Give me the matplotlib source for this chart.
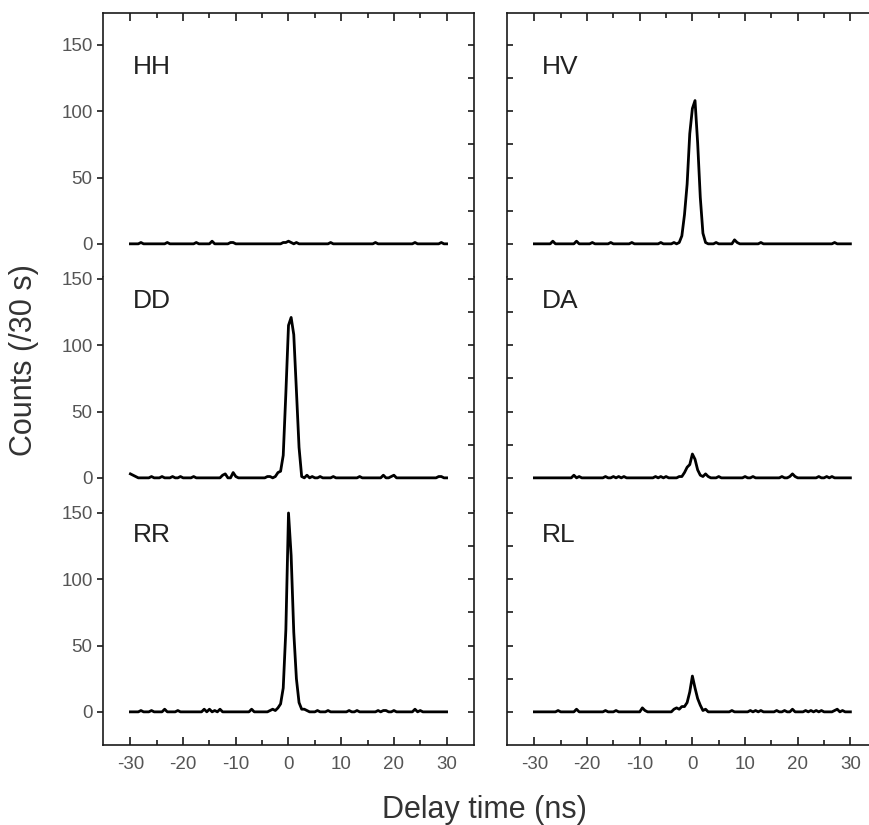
"""Two-photon coincidence counts for six polarisation bases."""
import matplotlib
matplotlib.use("Agg")
import matplotlib.pyplot as plt
from matplotlib.ticker import FixedLocator
import numpy as np

plt.rcParams["font.family"] = ["Liberation Sans", "DejaVu Sans"]
plt.rcParams["axes.unicode_minus"] = False

# delay time axis, 0.5 ns bins from -30 to 30 ns
delay = np.arange(-60, 61) * 0.5

counts_hh = [0, 0, 0, 0, 1, 0, 0, 0, 0, 0,
             0, 0, 0, 0, 1, 0, 0, 0, 0, 0,
             0, 0, 0, 0, 0, 1, 0, 0, 0, 0,
             0, 2, 0, 0, 0, 0, 0, 0, 1, 1,
             0, 0, 0, 0, 0, 0, 0, 0, 0, 0,
             0, 0, 0, 0, 0, 0, 0, 0, 1, 1,
             2, 1, 0, 1, 0, 0, 0, 0, 0, 0,
             0, 0, 0, 0, 0, 0, 1, 0, 0, 0,
             0, 0, 0, 0, 0, 0, 0, 0, 0, 0,
             0, 0, 0, 1, 0, 0, 0, 0, 0, 0,
             0, 0, 0, 0, 0, 0, 0, 0, 1, 0,
             0, 0, 0, 0, 0, 0, 0, 0, 1, 0,
             0]
counts_hv = [0, 0, 0, 0, 0, 0, 0, 2, 0, 0,
             0, 0, 0, 0, 0, 0, 2, 0, 0, 0,
             0, 0, 1, 0, 0, 0, 0, 0, 0, 1,
             0, 0, 0, 0, 0, 0, 0, 1, 0, 0,
             0, 0, 0, 0, 0, 0, 0, 0, 1, 0,
             0, 0, 0, 1, 0, 1, 6, 22, 45, 83,
             102, 108, 76, 35, 8, 1, 0, 0, 0, 1,
             0, 0, 0, 0, 0, 0, 3, 1, 0, 0,
             0, 0, 0, 0, 0, 0, 1, 0, 0, 0,
             0, 0, 0, 0, 0, 0, 0, 0, 0, 0,
             0, 0, 0, 0, 0, 0, 0, 0, 0, 0,
             0, 0, 0, 0, 1, 0, 0, 0, 0, 0,
             0]
counts_dd = [3, 2, 1, 0, 0, 0, 0, 0, 1, 0,
             0, 0, 1, 0, 0, 0, 1, 0, 0, 1,
             0, 0, 0, 0, 1, 0, 0, 0, 0, 0,
             0, 0, 0, 0, 0, 2, 3, 0, 0, 4,
             1, 0, 0, 0, 0, 0, 0, 0, 0, 0,
             0, 0, 1, 1, 0, 1, 4, 5, 17, 64,
             115, 121, 108, 66, 23, 1, 0, 2, 0, 1,
             0, 0, 1, 0, 0, 0, 0, 1, 0, 0,
             0, 0, 0, 0, 0, 0, 0, 1, 0, 0,
             0, 0, 0, 0, 0, 0, 2, 0, 0, 1,
             2, 0, 0, 0, 0, 0, 0, 0, 0, 0,
             0, 0, 0, 0, 0, 0, 0, 1, 1, 0,
             0]
counts_da = [0, 0, 0, 0, 0, 0, 0, 0, 0, 0,
             0, 0, 0, 0, 0, 2, 0, 1, 0, 0,
             0, 0, 0, 0, 0, 0, 0, 1, 0, 0,
             1, 0, 1, 0, 1, 0, 0, 0, 0, 0,
             0, 0, 0, 0, 0, 0, 1, 0, 1, 0,
             1, 0, 0, 0, 0, 1, 1, 4, 8, 10,
             18, 14, 6, 2, 1, 3, 1, 0, 0, 0,
             1, 0, 0, 0, 0, 0, 0, 0, 0, 0,
             1, 0, 0, 1, 0, 0, 0, 0, 0, 0,
             0, 0, 0, 0, 1, 0, 0, 1, 3, 1,
             0, 0, 0, 0, 0, 0, 0, 0, 1, 0,
             0, 1, 0, 1, 0, 0, 0, 0, 0, 0,
             0]
counts_rr = [0, 0, 0, 0, 1, 0, 0, 0, 1, 0,
             0, 0, 0, 2, 0, 0, 0, 0, 1, 0,
             0, 0, 0, 0, 0, 0, 0, 0, 2, 0,
             2, 0, 1, 0, 2, 0, 0, 0, 0, 0,
             0, 0, 0, 0, 0, 0, 2, 0, 0, 0,
             0, 0, 0, 1, 2, 1, 3, 6, 18, 62,
             150, 118, 60, 25, 7, 2, 2, 1, 0, 0,
             0, 1, 0, 0, 0, 1, 0, 0, 0, 0,
             0, 0, 0, 1, 0, 0, 1, 0, 0, 0,
             0, 0, 0, 0, 1, 0, 1, 1, 0, 0,
             1, 0, 0, 0, 0, 0, 0, 0, 2, 0,
             1, 0, 0, 0, 0, 0, 0, 0, 0, 0,
             0]
counts_rl = [0, 0, 0, 0, 0, 0, 0, 0, 0, 1,
             0, 0, 0, 0, 0, 0, 2, 0, 0, 0,
             0, 0, 0, 0, 0, 0, 0, 1, 0, 0,
             0, 1, 0, 0, 0, 0, 0, 0, 0, 0,
             0, 3, 1, 0, 0, 0, 0, 0, 0, 0,
             0, 0, 0, 2, 3, 2, 4, 4, 7, 15,
             27, 18, 10, 5, 1, 2, 0, 0, 0, 0,
             0, 0, 0, 0, 0, 1, 0, 0, 0, 0,
             0, 0, 1, 0, 1, 0, 1, 0, 0, 0,
             0, 0, 1, 0, 0, 1, 0, 0, 2, 0,
             0, 0, 0, 1, 0, 1, 0, 1, 0, 1,
             0, 0, 0, 0, 1, 2, 0, 1, 0, 0,
             0]

left_labels = ["HH", "DD", "RR"]
right_labels = ["HV", "DA", "RL"]
left_counts = [counts_hh, counts_dd, counts_rr]
right_counts = [counts_hv, counts_da, counts_rl]

W, H = 870, 825
fig = plt.figure(figsize=(W / 100, H / 100), dpi=100)

# panel rows in pixels (top, bottom); columns (left, right) and x-limits
rows = [(13, 277), (277, 511), (511, 745)]
ylims = [(-25, 174), (-25, 151.5), (-25, 151.5)]
cols = [(103, 474), (507, 892)]
xlims = [(-35.2, 35.2), (-35.2, 37.9)]
label_x = [-29.6, -28.6]
inner_ticks = [0, 25, 50, 75, 100, 125, 150]

tick_gray = "#555555"
spine_col = "#1a1a1a"

for c, (labels, data) in enumerate([(left_labels, left_counts), (right_labels, right_counts)]):
    x0, x1 = cols[c]
    for r, (lab, y) in enumerate(zip(labels, data)):
        t, b = rows[r]
        ax = fig.add_axes([x0 / W, 1 - b / H, (x1 - x0) / W, (b - t) / H])
        ax.plot(delay, y, color="black", lw=2.0, solid_joinstyle="round")
        ax.set_xlim(*xlims[c])
        ax.set_ylim(*ylims[r])
        ax.text(label_x[c], 128, lab, fontsize=19, color="#222222", va="baseline", ha="left")

        for s in ax.spines.values():
            s.set_color(spine_col)
            s.set_linewidth(1.2)
        ax.spines["top"].set_visible(r == 0)
        ax.spines["bottom"].set_visible(r == 2)
        if c == 1:
            # the right edge of this column runs off the figure
            ax.spines["right"].set_visible(False)

        ax.xaxis.set_major_locator(FixedLocator([-30, -20, -10, 0, 10, 20, 30]))
        ax.xaxis.set_minor_locator(FixedLocator([-25, -15, -5, 5, 15, 25]))
        ax.tick_params(axis="x", which="both", direction="in", top=(r == 0), bottom=(r == 2),
                       labelbottom=(r == 2), color=spine_col, width=1.2,
                       labelsize=13.5, labelcolor=tick_gray, pad=8)
        ax.tick_params(axis="x", which="major", length=6)
        ax.tick_params(axis="x", which="minor", length=3.5)

        if c == 0:
            ax.yaxis.set_major_locator(FixedLocator([0, 50, 100, 150]))
            ax.tick_params(axis="y", which="major", direction="out", left=True, right=False,
                           length=4.5, width=1.2, color=spine_col,
                           labelsize=13.5, labelcolor=tick_gray, pad=3)
            ax.tick_params(axis="y", which="minor", left=False, right=False)
            # inward ticks on the right spine every 25 counts
            sec = ax.secondary_yaxis("right")
            sec.spines["right"].set_visible(False)
            sec.yaxis.set_major_locator(FixedLocator(inner_ticks))
            sec.tick_params(axis="y", direction="in", length=4.5, width=1.2,
                            color=spine_col, labelright=False)
        else:
            ax.yaxis.set_major_locator(FixedLocator(inner_ticks))
            ax.tick_params(axis="y", which="both", direction="in", left=True, right=False,
                           length=4.5, width=1.2, color=spine_col,
                           labelleft=False, labelright=False)

fig.text(24 / W, 1 - 360 / H, "Counts (/30 s)", rotation=90, fontsize=22,
         color="#333333", ha="center", va="center")
fig.text(484 / W, 1 - 818 / H, "Delay time (ns)", fontsize=22,
         color="#333333", ha="center", va="baseline")

fig.savefig("out.png", dpi=100)
